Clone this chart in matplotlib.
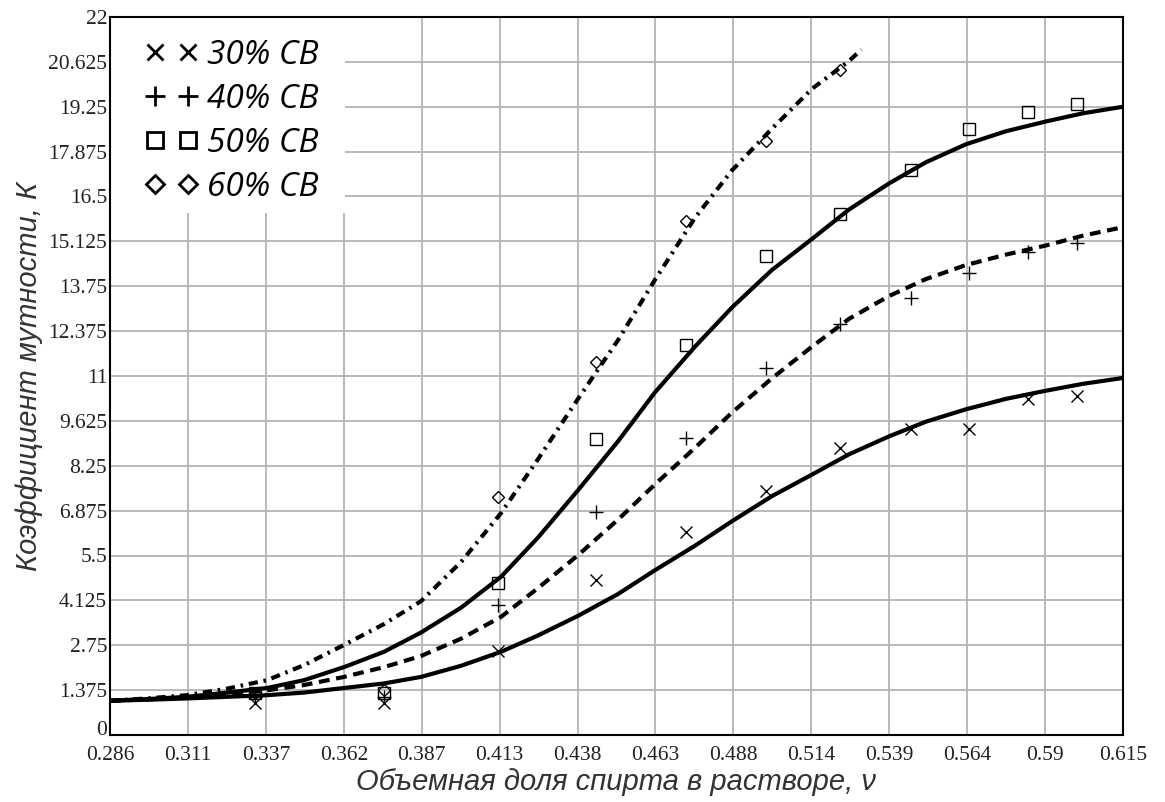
import numpy as np
import matplotlib
matplotlib.use('Agg')
import matplotlib.pyplot as plt
from matplotlib.lines import Line2D
from matplotlib.patches import Rectangle

# measured points (volume fraction of alcohol vs turbidity coefficient)
v_30 = [0.333, 0.375, 0.412, 0.444, 0.473, 0.499, 0.523, 0.546, 0.565, 0.584, 0.600]
k_30 = [0.98, 0.98, 2.57, 4.75, 6.22, 7.47, 8.79, 9.37, 9.37, 10.3, 10.4]

v_40 = [0.333, 0.375, 0.412, 0.444, 0.473, 0.499, 0.523, 0.546, 0.565, 0.584, 0.600]
k_40 = [1.16, 1.16, 3.98, 6.83, 9.1, 11.24, 12.6, 13.4, 14.15, 14.8, 15.07]

v_50 = [0.333, 0.375, 0.412, 0.444, 0.473, 0.499, 0.523, 0.546, 0.565, 0.584, 0.600]
k_50 = [1.29, 1.29, 4.66, 9.07, 11.95, 14.67, 15.96, 17.3, 18.57, 19.08, 19.33]

v_60 = [0.333, 0.375, 0.412, 0.444, 0.473, 0.499, 0.523]
k_60 = [1.29, 1.38, 7.29, 11.43, 15.75, 18.2, 20.37]

# fitted curves
v_fit = [0.286, 0.298, 0.311, 0.324, 0.337, 0.349, 0.362, 0.375, 0.387, 0.400,
         0.413, 0.425, 0.438, 0.451, 0.463, 0.476, 0.488, 0.501, 0.514, 0.526,
         0.539, 0.551, 0.564, 0.577, 0.590, 0.602, 0.615]
fit_30 = [1.05, 1.08, 1.12, 1.17, 1.22, 1.30, 1.44, 1.58, 1.78, 2.12,
          2.55, 3.05, 3.65, 4.32, 5.05, 5.80, 6.55, 7.32, 7.98, 8.60,
          9.15, 9.60, 9.98, 10.30, 10.55, 10.76, 10.94]
fit_40 = [1.05, 1.09, 1.15, 1.25, 1.37, 1.53, 1.78, 2.08, 2.42, 2.95,
          3.62, 4.50, 5.51, 6.60, 7.68, 8.80, 9.88, 10.93, 11.90, 12.75,
          13.45, 13.97, 14.40, 14.72, 15.00, 15.30, 15.56]
fit_50 = [1.05, 1.10, 1.17, 1.30, 1.44, 1.68, 2.08, 2.55, 3.14, 3.90,
          4.85, 6.05, 7.50, 9.00, 10.50, 11.90, 13.10, 14.25, 15.20, 16.10,
          16.90, 17.55, 18.10, 18.50, 18.80, 19.05, 19.25]
v_fit_60 = [0.286, 0.298, 0.311, 0.324, 0.337, 0.349, 0.362, 0.375, 0.387, 0.400,
            0.413, 0.425, 0.438, 0.451, 0.463, 0.476, 0.488, 0.501, 0.514, 0.526,
            0.530]
fit_60 = [1.05, 1.12, 1.22, 1.42, 1.68, 2.14, 2.76, 3.40, 4.10, 5.30,
          6.80, 8.45, 10.30, 12.10, 13.95, 15.85, 17.30, 18.58, 19.80, 20.65,
          21.0]

x_labels = ['0.286', '0.311', '0.337', '0.362', '0.387', '0.413', '0.438',
            '0.463', '0.488', '0.514', '0.539', '0.564', '0.59', '0.615']
y_labels = ['0', '1.375', '2.75', '4.125', '5.5', '6.875', '8.25', '9.625', '11',
            '12.375', '13.75', '15.125', '16.5', '17.875', '19.25', '20.625', '22']

fig = plt.figure(figsize=(11.65, 8.02), dpi=100)
ax = fig.add_axes([110 / 1165, 67 / 802, 1013 / 1165, 718 / 802])

lw = 3.0
ax.plot(v_fit, fit_30, color='black', lw=lw, zorder=3)
ax.plot(v_fit, fit_40, color='black', lw=lw, ls=(0, (2.6, 1.6)), zorder=3)
ax.plot(v_fit, fit_50, color='black', lw=lw, zorder=3)
ax.plot(v_fit_60, fit_60, color='black', lw=lw, ls=(0, (2.2, 1.4, 0.6, 1.4)), zorder=3)

mk = dict(ls='none', color='black', mfc='none', mew=1.0, zorder=4)
ax.plot(v_30, k_30, marker='x', ms=8, **mk)
ax.plot(v_40, k_40, marker='+', ms=10, **mk)
ax.plot(v_50, k_50, marker='s', ms=9, **mk)
ax.plot(v_60, k_60, marker='D', ms=6.5, **mk)

ax.set_xlim(0.286, 0.615)
ax.set_ylim(0, 22)
ax.set_xticks(np.linspace(0.286, 0.615, len(x_labels)))
ax.set_xticklabels(x_labels)
ax.set_yticks(np.linspace(0, 22, len(y_labels)))
ax.set_yticklabels(y_labels)
ax.tick_params(axis='x', length=0, pad=8, labelsize=15.5, labelcolor='#222222')
ax.tick_params(axis='y', length=0, pad=2, labelsize=15.5, labelcolor='#222222')
for t in ax.get_xticklabels() + ax.get_yticklabels():
    t.set_family('Liberation Serif')
ax.get_yticklabels()[0].set_va('baseline')

ax.grid(True, color='#b4b4b4', lw=1.3)
ax.set_axisbelow(True)
for s in ax.spines.values():
    s.set_linewidth(1.5)
    s.set_color('black')

ax.set_xlabel('Объемная доля спирта в растворе, ν', fontsize=21, style='italic',
              family='Liberation Sans', color='#333333', labelpad=2)
ax.set_ylabel('Коэффициент мутности, К', fontsize=21, style='italic',
              family='Liberation Sans', color='#333333', labelpad=4)

# white block behind the legend (hides the grid there)
ax.add_patch(Rectangle((0, 0.727), 0.232, 0.273, transform=ax.transAxes,
                       facecolor='white', edgecolor='none', zorder=2))

handles = [
    Line2D([], [], ls='none', marker='x', ms=12, mew=2.0, color='black'),
    Line2D([], [], ls='none', marker='+', ms=15, mew=2.0, color='black'),
    Line2D([], [], ls='none', marker='s', ms=12, mew=2.0, color='black', mfc='none'),
    Line2D([], [], ls='none', marker='D', ms=9, mew=2.0, color='black', mfc='none'),
]
leg = ax.legend(handles, ['30% СВ', '40% СВ', '50% СВ', '60% СВ'], loc='upper left',
                bbox_to_anchor=(0.0346, 0.970), numpoints=2, handlelength=1.6,
                handletextpad=0.27, labelspacing=0.33, borderaxespad=0,
                borderpad=0, frameon=False,
                prop={'family': 'Open Sans', 'style': 'italic', 'size': 24})
leg.set_zorder(5)

fig.savefig('out.png', dpi=100)
